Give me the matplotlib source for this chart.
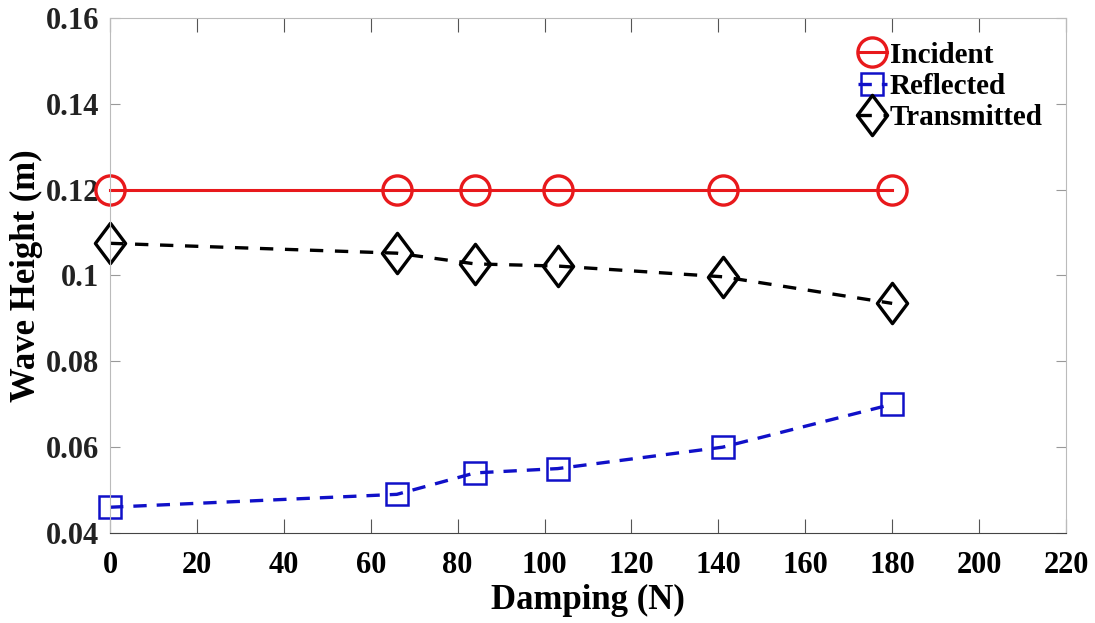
import matplotlib

matplotlib.use("Agg")
import matplotlib.pyplot as plt
from matplotlib.path import Path

damping = [0, 66, 84, 103, 141, 180]
incident = [0.12, 0.12, 0.12, 0.12, 0.12, 0.12]
reflected = [0.046, 0.049, 0.054, 0.055, 0.060, 0.070]
transmitted = [0.1075, 0.1052, 0.1027, 0.1022, 0.0997, 0.0935]

plt.rcParams["font.family"] = ["Liberation Serif", "DejaVu Serif"]
plt.rcParams["font.weight"] = "bold"

# MATLAB-style diamond: a bit taller than wide
diamond = Path([(0, 1), (0.75, 0), (0, -1), (-0.75, 0), (0, 1)],
               [Path.MOVETO, Path.LINETO, Path.LINETO, Path.LINETO, Path.CLOSEPOLY])

fig = plt.figure(figsize=(10.95, 6.23), dpi=100)
ax = fig.add_axes([0.1005, 0.1445, 0.873, 0.8266])

ax.plot(damping, incident, "-", color="#e8191c", lw=2.2, marker="o", ms=21,
        mfc="none", mec="#e8191c", mew=2.4, label="Incident", clip_on=False)
ax.plot(damping, reflected, "--", color="#1010c8", lw=2.4, marker="s", ms=16.5,
        mfc="none", mec="#1010c8", mew=1.8, label="Reflected", dashes=(4, 3),
        clip_on=False)
ax.plot(damping, transmitted, "--", color="black", lw=2.4, marker=diamond, ms=29,
        mfc="none", mec="black", mew=2.4, label="Transmitted", dashes=(4, 3.5),
        clip_on=False)

ax.set_xlim(0, 220)
ax.set_ylim(0.04, 0.16)
ax.set_xticks(range(0, 221, 20))
ax.set_yticks([0.04, 0.06, 0.08, 0.1, 0.12, 0.14, 0.16])
ax.set_yticklabels(["0.04", "0.06", "0.08", "0.1", "0.12", "0.14", "0.16"])
ax.tick_params(direction="in", color="#555555", labelsize=22, top=True, right=True)
ax.tick_params(axis="x", length=10, pad=13)
ax.tick_params(axis="y", length=7, pad=8, colors="#999999", labelcolor="#222222")
for lbl in ax.get_xticklabels() + ax.get_yticklabels():
    lbl.set_fontweight("bold")
for side in ("top", "right", "left"):
    ax.spines[side].set_color("#bbbbbb")
ax.spines["bottom"].set_color("#444444")

ax.set_xlabel("Damping (N)", fontsize=25, fontweight="bold", labelpad=3)
ax.set_ylabel("Wave Height (m)", fontsize=25, fontweight="bold", labelpad=2)

ax.legend(loc="upper right", bbox_to_anchor=(1.003, 1.005), frameon=False,
          handlelength=1.0, handletextpad=0.1, labelspacing=0.15,
          markerscale=1.0, prop={"weight": "bold", "size": 21})

fig.savefig("out.png", dpi=100)
